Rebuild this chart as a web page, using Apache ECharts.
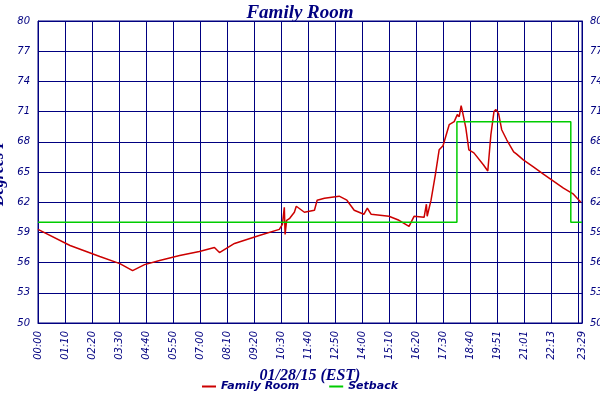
<!DOCTYPE html>
<html>
<head>
<meta charset="utf-8">
<script src="https://cdn.jsdelivr.net/npm/echarts@6/dist/echarts.min.js"></script>
<style>html,body{margin:0;padding:0;background:#fff}#main{width:600px;height:400px}</style>
</head>
<body>
<div id="main"></div>
<script>
// minutes since midnight, degrees F
var tempMinutes = [0, 83, 160, 212, 245, 276, 315, 367, 418, 457, 470, 509, 573, 625, 633, 638, 640, 644, 652, 664, 669, 690, 716, 723, 742, 780, 800, 819, 844, 853, 863, 909, 935, 961, 974, 1000, 1006, 1008, 1012, 1018, 1029, 1039, 1049, 1065, 1078, 1086, 1091, 1096, 1100, 1108, 1116, 1129, 1154, 1165, 1173, 1181, 1186, 1193, 1201, 1214, 1232, 1239, 1257, 1283, 1309, 1335, 1361, 1387, 1406];
var tempValues = [59.3, 57.7, 56.6, 55.9, 55.2, 55.8, 56.2, 56.7, 57.1, 57.5, 57.0, 57.9, 58.7, 59.3, 59.8, 61.5, 58.8, 60.2, 60.4, 61.0, 61.6, 61.0, 61.2, 62.2, 62.4, 62.6, 62.2, 61.2, 60.8, 61.4, 60.8, 60.6, 60.2, 59.6, 60.6, 60.5, 61.8, 60.6, 60.6, 62.2, 64.7, 67.2, 67.6, 69.7, 70.0, 70.7, 70.5, 71.6, 70.9, 69.4, 67.2, 66.9, 65.7, 65.1, 68.7, 71.0, 71.2, 70.8, 69.2, 68.2, 67.0, 66.8, 66.2, 65.5, 64.8, 64.1, 63.4, 62.8, 62.0];
var setbackMinutes = [0, 1085, 1085, 1380, 1380, 1409];
var setbackValues = [60, 60, 70, 70, 60, 60];
var xTickLabels = ['00:00','01:10','02:20','03:30','04:40','05:50','07:00','08:10','09:20','10:30','11:40','12:50','14:00','15:10','16:20','17:30','18:40','19:51','21:01','22:13','23:23'];
var xEndLabel = '23:29';

function pairs(xs, ys) { return xs.map(function (x, i) { return [x, ys[i]]; }); }

var navy = '#000080';
var myChart = echarts.init(document.getElementById('main'));
var yAxisBase = {
    type: 'value', min: 50, max: 80, interval: 3,
    axisLine: { show: true, lineStyle: { color: navy } },
    axisTick: { show: false },
    splitLine: { lineStyle: { color: navy, width: 1 } },
    axisLabel: { color: navy, fontStyle: 'italic', fontSize: 10, fontFamily: 'DejaVu Sans' }
};
myChart.setOption({
    animation: false,
    backgroundColor: '#fff',
    title: {
        text: 'Family Room', left: 'center', top: -1,
        textStyle: { color: navy, fontStyle: 'italic', fontWeight: 'bold', fontSize: 19, fontFamily: 'Liberation Serif' }
    },
    grid: { left: 38, right: 18, top: 21, bottom: 77, containLabel: false, outerBoundsMode: 'none',
            show: true, borderColor: navy, borderWidth: 1 },
    legend: {
        bottom: 3, itemWidth: 14, itemHeight: 2, itemGap: 30,
        textStyle: { color: navy, fontStyle: 'italic', fontWeight: 'bold', fontSize: 11, fontFamily: 'DejaVu Sans' },
        data: [{ name: 'Family Room', icon: 'rect' }, { name: 'Setback', icon: 'rect' }]
    },
    xAxis: {
        type: 'value', min: 0, max: 1409, interval: 70,
        name: '01/28/15 (EST)', nameLocation: 'middle', nameGap: 43,
        nameTextStyle: { color: navy, fontStyle: 'italic', fontWeight: 'bold', fontSize: 16, fontFamily: 'Liberation Serif' },
        axisLine: { lineStyle: { color: navy } },
        axisTick: { show: false },
        splitLine: { show: true, lineStyle: { color: navy } },
        axisLabel: {
            rotate: 90, color: navy, fontStyle: 'italic', fontSize: 10, fontFamily: 'DejaVu Sans',
            showMaxLabel: true, hideOverlap: false,
            formatter: function (v) {
                if (v >= 1409) return xEndLabel;
                var i = Math.round(v / 70);
                return xTickLabels[i] || '';
            }
        }
    },
    yAxis: [
        Object.assign({}, yAxisBase, {
            name: 'Degrees F', nameLocation: 'middle', nameGap: 26,
            nameTextStyle: { color: navy, fontStyle: 'italic', fontWeight: 'bold', fontSize: 16, fontFamily: 'Liberation Serif' }
        }),
        Object.assign({}, yAxisBase, { position: 'right', splitLine: { show: false } })
    ],
    series: [
        { name: 'Family Room', type: 'line', data: pairs(tempMinutes, tempValues), showSymbol: false,
          lineStyle: { color: '#cc0000', width: 1.5 }, itemStyle: { color: '#cc0000' } },
        { name: 'Setback', type: 'line', data: pairs(setbackMinutes, setbackValues), showSymbol: false,
          lineStyle: { color: '#00cc00', width: 1.5 }, itemStyle: { color: '#00cc00' } }
    ]
});
</script>
</body>
</html>
